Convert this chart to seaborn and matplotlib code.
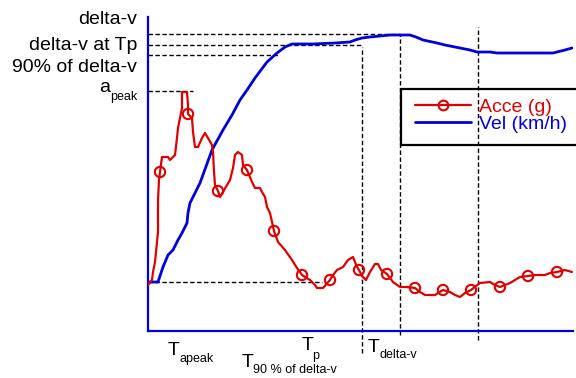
import numpy as np
import pandas as pd
import matplotlib
matplotlib.use("Agg")
import matplotlib.pyplot as plt
from matplotlib.lines import Line2D
from matplotlib.patches import Rectangle
import seaborn as sns

# ---------------- data ----------------
acc_t = [0, 2, 2.5, 3.5, 4.5, 5, 5, 5.5, 6, 7, 10, 11, 13.5, 14.5, 15, 16, 17, 17, 19.5, 20,
         20, 22, 22.5, 23.5, 25, 27, 28.5, 30, 32, 32.5, 33, 33.5, 35, 36, 37.5, 39.5, 41,
         42.5, 43.5, 45, 47, 47.5, 49.5, 52, 53.5, 56, 57, 58.5, 59.5, 61, 63, 65, 68.5, 72,
         74.5, 77, 81, 83.5, 84.5, 87.5, 91, 92.5, 94.5, 97.5, 100, 102.5, 104.5, 105.5, 107,
         109, 111, 113.5, 115, 116.5, 119.5, 122.5, 126, 129.5, 133.5, 136, 138.5, 143.5,
         147.5, 151, 153.5, 156, 158.5, 161.5, 164, 166, 171, 173.5, 176, 178.5, 181, 183.5,
         186, 190, 193.5, 198.5, 201, 204.5, 208.5, 212]
acc_g = [-1.5, 1, 5, 10, 20, 25, 41, 51, 55, 62.5, 62.5, 61, 63.5, 72, 77, 82, 87, 95, 95, 88.5,
         84, 82, 75, 67.5, 67.5, 72, 74.5, 72, 68.5, 65, 55, 48.5, 45.5, 42.5, 45, 48.5, 51,
         57, 63.5, 65, 63.5, 58.5, 56, 50, 47, 47, 45, 42.5, 37.5, 34.5, 25.5, 20, 16, 11,
         7, 3.5, 1, -1.5, -3, -3, 1, 3.5, 6, 7.5, 11, 12.5, 7.5, 6, 3,
         1, 5, 9, 9, 6, 4, 0, -2.5, -2.5, -3, -5, -6.5, -6.5,
         -4, -5, -6.5, -7.5, -5.5, -4, -2, -0.5, 0, -1.5, -2.5, -1.5, -0.5, 1,
         2.5, 3, 3.5, 3.5, 4.5, 5, 6, 5]

marker_t = [6, 20, 35, 49.5, 63, 77, 91, 105.5, 119.5, 133.5, 147.5, 161.5, 176, 190, 204.5]
marker_g = [55, 84, 45.5, 56, 25.5, 3.5, 1, 6, 4, -3, -4, -4, -2.5, 3, 5]

vel_t = [0, 5, 7.5, 10, 12.5, 15, 17, 19.5, 20, 21, 26, 32, 37.5, 42, 46, 49.5, 53.5, 59.5,
         64.5, 68.5, 72, 82.5, 93.5, 101, 103.5, 107, 111, 116, 121, 126, 131, 134, 137.5,
         144.5, 148.5, 156, 161, 164.5, 171, 174.5, 202.5, 204.5, 208.5, 212]
vel_kmh = [0, 0, 7.5, 13.5, 16, 21, 24.5, 29.5, 34.5, 39.5, 49.5, 66, 76, 83.5, 91, 96, 102,
           110, 114.5, 117.5, 119, 119, 119.5, 120, 121, 122, 122.5, 123, 123.5, 123.5,
           123.5, 122.5, 121, 119.5, 118.5, 117, 116, 115, 115, 114.5, 114.5, 115, 116, 117]

# reference levels and times
delta_v = 124
delta_v_at_tp = 118.5
v90 = 113.5
a_peak = 95.5
t_p = 107
t_delta_v = 126
t_end = 165

series_names = ["Acce (g)", "Vel (km/h)"]
y_labels = ["delta-v", "delta-v at Tp", "90% of delta-v"]

RED = "#e00000"
BLUE = "#0000dd"

# ---------------- style ----------------
sns.set_theme(style="white")
plt.rcParams["font.family"] = ["Liberation Sans", "DejaVu Sans"]
plt.rcParams["text.color"] = "black"
FS = 14

fig = plt.figure(figsize=(5.76, 3.78), dpi=100)
W, H = 576, 378
ax = fig.add_axes([148 / W, (H - 331) / H, (573 - 148) / W, (331 - 17) / H])

acc_df = pd.DataFrame({"t": acc_t, "v": acc_g})
vel_df = pd.DataFrame({"t": vel_t, "v": vel_kmh})
mk_df = pd.DataFrame({"t": marker_t, "v": marker_g})

sns.lineplot(data=vel_df, x="t", y="v", sort=False, estimator=None, color=BLUE,
             lw=2.0, ax=ax, zorder=3)
sns.lineplot(data=acc_df, x="t", y="v", sort=False, estimator=None, color=RED,
             lw=1.6, ax=ax, zorder=4)
sns.scatterplot(data=mk_df, x="t", y="v", marker="o", s=55, facecolor="none",
                edgecolor=RED, linewidth=1.5, ax=ax, zorder=5)

ax.set_xlim(0, 212.5)
ax.set_ylim(-24.5, 132.5)
ax.set_xlabel("")
ax.set_ylabel("")
ax.set_xticks([])
ax.set_yticks([])
for s in ["top", "right"]:
    ax.spines[s].set_visible(False)
for s in ["left", "bottom"]:
    ax.spines[s].set_color(BLUE)
    ax.spines[s].set_linewidth(1.6)

dash = dict(color="black", lw=1.0, linestyle=(0, (3.2, 1.8)), zorder=2, clip_on=False)
ax.hlines(delta_v, 0, t_delta_v, **dash)
ax.hlines(delta_v_at_tp, 0, t_p, **dash)
ax.hlines(v90, 0, 66, **dash)
ax.hlines(a_peak, 0, 22.5, **dash)
ax.hlines(0, 0, 87, **dash)
ax.vlines(t_p, -35.5, 117.5, **dash)
ax.vlines(t_delta_v, -26.5, delta_v, **dash)
ax.vlines(t_end, -29, 127.5, **dash)

# left labels
ax.text(-5.5, 129, y_labels[0], ha="right", va="baseline", fontsize=FS, clip_on=False)
ax.text(-5.5, 116, y_labels[1], ha="right", va="baseline", fontsize=FS, clip_on=False)
ax.text(-5.5, 105, y_labels[2], ha="right", va="baseline", fontsize=FS, clip_on=False)
ax.text(-19, 95, "a", ha="right", va="baseline", fontsize=FS, clip_on=False)
ax.text(-19, 91, "peak", ha="left", va="baseline", fontsize=9, clip_on=False)

# bottom labels
def tlabel(tx, ty, sub, sx, sy):
    ax.text(tx, ty, "T", ha="left", va="baseline", fontsize=FS, clip_on=False)
    ax.text(sx, sy, sub, ha="left", va="baseline", fontsize=9, clip_on=False)

tlabel(10, -36.5, "apeak", 16, -40)
tlabel(47, -42.5, "90 % of delta-v", 52.5, -45.5)
tlabel(77, -34, "p", 82, -38.5)
tlabel(110, -35, "delta-v", 116, -38)

# legend
handles = [Line2D([], [], color=RED, lw=1.6, marker="o", mfc="none", mec=RED, ms=7, mew=1.5),
           Line2D([], [], color=BLUE, lw=2.0)]
leg = ax.legend(handles, series_names, loc="upper left",
                bbox_to_anchor=(415 / W, 1 - 98 / H), bbox_transform=fig.transFigure,
                frameon=False, borderpad=0, borderaxespad=0, fontsize=FS,
                handlelength=2.9, handletextpad=0.4, labelspacing=0.0)
for txt, c in zip(leg.get_texts(), [RED, BLUE]):
    txt.set_color(c)
fig.patches.append(Rectangle((401 / W, 1 - 145 / H), 200 / W, 56 / H,
                             transform=fig.transFigure, fill=False,
                             edgecolor="black", lw=1.6, zorder=10))

fig.savefig("out.png", dpi=100)
